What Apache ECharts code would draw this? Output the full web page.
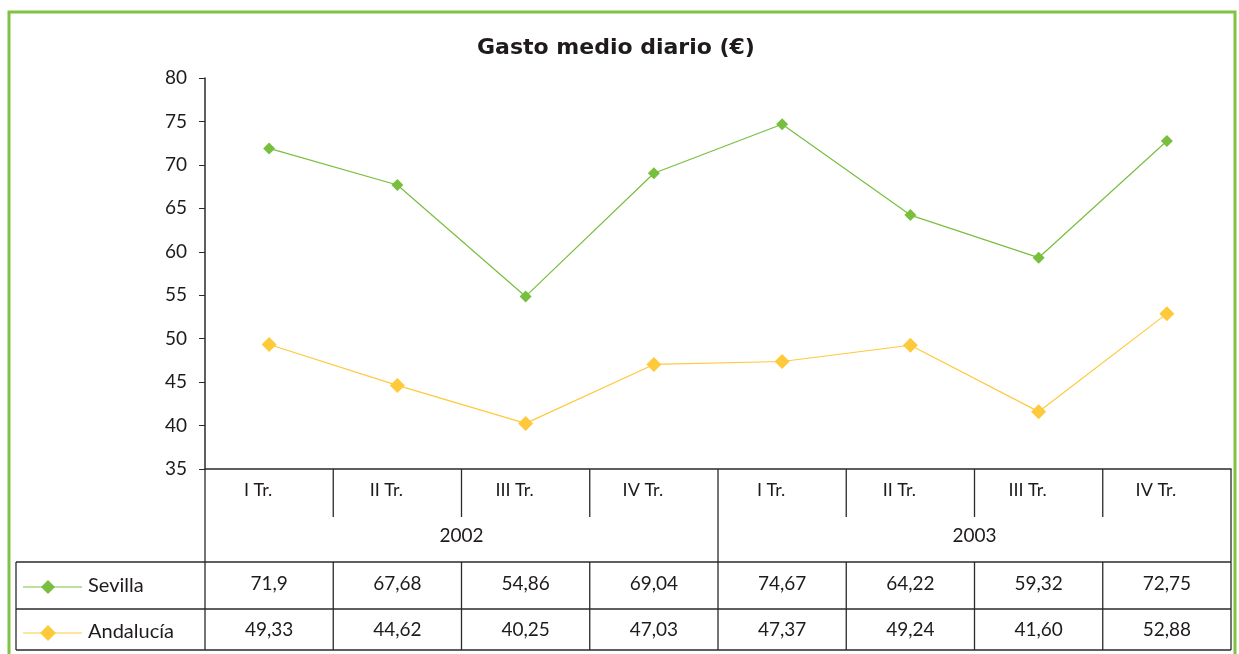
<!DOCTYPE html>
<html>
<head>
<meta charset="utf-8">
<script src="https://cdn.jsdelivr.net/npm/echarts@6/dist/echarts.min.js"></script>
<style>
  html, body { margin: 0; padding: 0; background: #fff; }
  #chart { width: 1239px; height: 654px; }
</style>
</head>
<body>
<div id="chart"></div>
<script>
  // datos del gráfico
  var quarters = ['I Tr.', 'II Tr.', 'III Tr.', 'IV Tr.', 'I Tr.', 'II Tr.', 'III Tr.', 'IV Tr.']
  var years = ['2002', '2003']
  var sevilla = ['71,9', '67,68', '54,86', '69,04', '74,67', '64,22', '59,32', '72,75']
  var andalucia = ['49,33', '44,62', '40,25', '47,03', '47,37', '49,24', '41,60', '52,88']
  var seriesNames = ['Sevilla', 'Andalucía']

  var font = 'Lato'
  var ink = '#1f1b1c'
  var green = '#78bf3f'
  var yellow = '#ffc93c'
  var toNum = function (s) { return parseFloat(s.replace(',', '.')) }

  var chart = echarts.init(document.getElementById('chart'))
  chart.setOption({
    animation: false,
    title: {
      text: 'Gasto medio diario (€)',
      left: 472,
      top: 32,
      textStyle: { fontFamily: 'DejaVu Sans', fontWeight: 'bold', fontSize: 22, color: ink }
    },
    grid: { left: 205, right: 8, top: 78, bottom: 185 },
    xAxis: {
      type: 'category',
      data: quarters,
      boundaryGap: true,
      axisTick: { show: false },
      axisLine: { lineStyle: { color: '#2a2a2a', width: 1.5 } },
      axisLabel: {
        interval: 0,
        margin: 12,
        fontFamily: font,
        fontSize: 18,
        color: ink,
        padding: [0, 22, 0, 0]
      },
      splitLine: { show: false }
    },
    yAxis: {
      type: 'value',
      min: 35,
      max: 80,
      interval: 5,
      axisLine: { show: true, lineStyle: { color: '#2a2a2a', width: 1.5 } },
      axisTick: { show: true, inside: false, length: 6, lineStyle: { color: '#2a2a2a' } },
      axisLabel: { fontFamily: font, fontSize: 19, color: ink, margin: 18 },
      splitLine: { show: false }
    },
    series: [
      {
        name: seriesNames[0],
        type: 'line',
        data: sevilla.map(toNum),
        symbol: 'diamond',
        symbolSize: 12,
        lineStyle: { color: green, width: 1.2 },
        itemStyle: { color: green }
      },
      {
        name: seriesNames[1],
        type: 'line',
        data: andalucia.map(toNum),
        symbol: 'diamond',
        symbolSize: 15,
        lineStyle: { color: yellow, width: 1.2 },
        itemStyle: { color: yellow }
      }
    ]
  })

  // tabla de datos debajo del eje
  var c0 = chart.convertToPixel({ xAxisIndex: 0 }, 0)
  var c1 = chart.convertToPixel({ xAxisIndex: 0 }, 1)
  var band = c1 - c0
  var edge = function (i) { return c0 - band / 2 + i * band }
  var yAxisLine = 469, yQuarter = 517, yYear = 562, yRow1 = 609, yBottom = 650, xLeft = 16
  var lineStyle = { stroke: '#2a2a2a', lineWidth: 1.3 }
  var els = []
  var hline = function (x1, x2, y) {
    els.push({ type: 'line', shape: { x1: x1, y1: y, x2: x2, y2: y }, style: lineStyle, silent: true })
  }
  var vline = function (x, y1, y2) {
    els.push({ type: 'line', shape: { x1: x, y1: y1, x2: x, y2: y2 }, style: lineStyle, silent: true })
  }
  var text = function (str, x, y, size, align) {
    els.push({
      type: 'text', x: x, y: y, silent: true,
      style: { text: str, fill: ink, font: size + 'px ' + font, textAlign: align || 'center', textVerticalAlign: 'middle' }
    })
  }

  for (var i = 0; i <= quarters.length; i++) {
    var full = (i % 4 === 0)
    vline(edge(i), yAxisLine, full ? yBottom : yQuarter)
    if (!full) vline(edge(i), yYear, yBottom)
  }
  hline(xLeft, edge(8), yYear)
  hline(xLeft, edge(8), yRow1)
  hline(xLeft, edge(8), yBottom)
  vline(xLeft, yYear, yBottom)

  years.forEach(function (yr, k) {
    text(yr, (edge(k * 4) + edge(k * 4 + 4)) / 2, 536, 19)
  })

  var rows = [sevilla, andalucia]
  var colors = [green, yellow]
  var sizes = [7, 8]
  rows.forEach(function (row, r) {
    var yc = r === 0 ? 584 : 630
    row.forEach(function (v, i) {
      text(v, (edge(i) + edge(i + 1)) / 2, yc, 19)
    })
    // clave de leyenda
    els.push({ type: 'line', shape: { x1: 23, y1: yc + 3, x2: 82, y2: yc + 3 }, style: { stroke: colors[r], lineWidth: 1.2 }, silent: true })
    var s = sizes[r]
    els.push({
      type: 'polygon', silent: true,
      shape: { points: [[48, yc + 3 - s], [48 + s, yc + 3], [48, yc + 3 + s], [48 - s, yc + 3]] },
      style: { fill: colors[r] }
    })
    text(seriesNames[r], 88, yc + 2, 20, 'left')
  })

  // marco verde
  els.push({
    type: 'rect', silent: true,
    shape: { x: 9, y: 12, width: 1226, height: 700 },
    style: { fill: 'none', stroke: '#80c342', lineWidth: 3 }
  })

  chart.setOption({ graphic: els })
</script>
</body>
</html>
